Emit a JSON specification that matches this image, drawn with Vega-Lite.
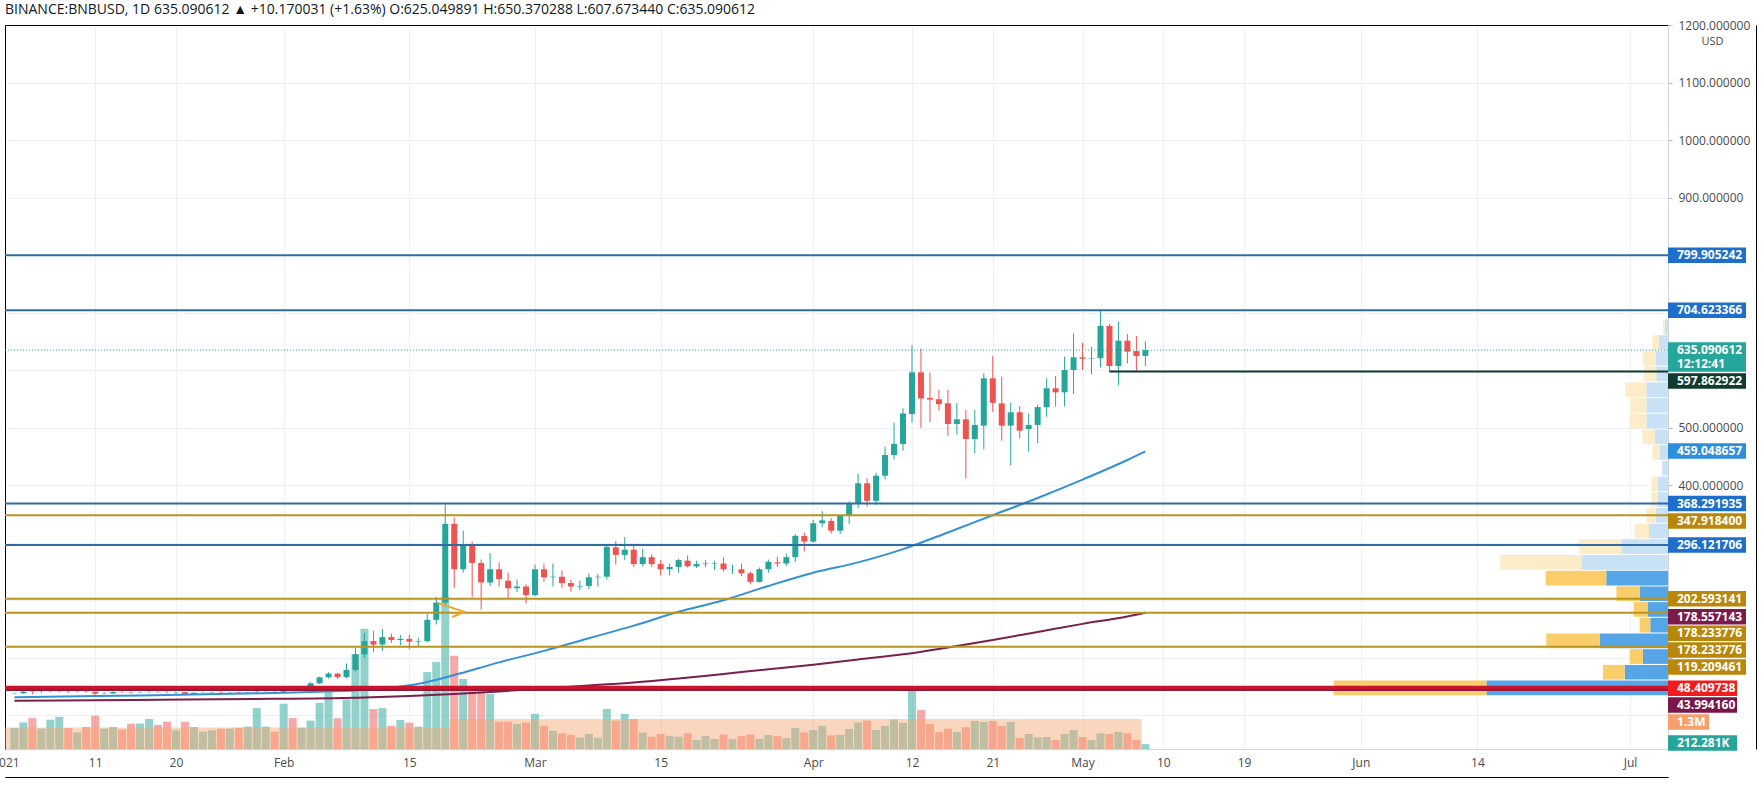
{
  "$schema": "https://vega.github.io/schema/vega-lite/v6.json",
  "width": 1663,
  "height": 724,
  "autosize": "none",
  "padding": {"left": 5, "top": 25, "right": 95, "bottom": 40},
  "background": "white",
  "config": {"font": "Open Sans", "view": {"stroke": null}},
  "title": {
    "text": "BINANCE:BNBUSD, 1D 635.090612 ▲ +10.170031 (+1.63%) O:625.049891 H:650.370288 L:607.673440 C:635.090612",
    "anchor": "start", "frame": "group", "offset": 7, "baseline": "bottom", "dy": 19,
    "fontSize": 14, "fontWeight": "normal", "color": "#131722", "font": "Open Sans"
  },
  "datasets": {
    "candles": [
      {"date":"2021-01-02","o":37.7,"h":38.9,"l":36.7,"c":38.2,"v":0.91},
      {"date":"2021-01-03","o":38.2,"h":42.7,"l":37.9,"c":41.3,"v":1.15},
      {"date":"2021-01-04","o":41.3,"h":42.1,"l":36.2,"c":40.6,"v":1.34},
      {"date":"2021-01-05","o":40.6,"h":42.0,"l":38.8,"c":41.0,"v":0.88},
      {"date":"2021-01-06","o":41.0,"h":42.6,"l":40.2,"c":41.3,"v":1.27},
      {"date":"2021-01-07","o":41.3,"h":43.0,"l":40.6,"c":41.7,"v":1.39},
      {"date":"2021-01-08","o":41.7,"h":42.5,"l":39.0,"c":41.2,"v":0.91},
      {"date":"2021-01-09","o":41.2,"h":42.3,"l":40.2,"c":41.6,"v":0.72},
      {"date":"2021-01-10","o":41.6,"h":42.5,"l":39.2,"c":41.0,"v":0.95},
      {"date":"2021-01-11","o":41.0,"h":41.2,"l":34.0,"c":37.6,"v":1.44},
      {"date":"2021-01-12","o":37.6,"h":40.0,"l":36.5,"c":38.0,"v":0.88},
      {"date":"2021-01-13","o":38.0,"h":41.8,"l":37.3,"c":40.5,"v":0.95},
      {"date":"2021-01-14","o":40.5,"h":42.4,"l":39.6,"c":40.2,"v":0.84},
      {"date":"2021-01-15","o":40.2,"h":41.4,"l":37.6,"c":39.8,"v":1.10},
      {"date":"2021-01-16","o":39.8,"h":41.3,"l":39.2,"c":40.3,"v":1.10},
      {"date":"2021-01-17","o":40.3,"h":41.7,"l":39.4,"c":40.7,"v":1.30},
      {"date":"2021-01-18","o":40.7,"h":41.5,"l":39.3,"c":40.2,"v":1.04},
      {"date":"2021-01-19","o":40.2,"h":41.8,"l":39.0,"c":39.8,"v":1.18},
      {"date":"2021-01-20","o":39.8,"h":41.2,"l":37.4,"c":40.2,"v":0.81},
      {"date":"2021-01-21","o":40.2,"h":40.6,"l":35.2,"c":37.0,"v":1.18},
      {"date":"2021-01-22","o":37.0,"h":39.8,"l":35.5,"c":39.3,"v":0.95},
      {"date":"2021-01-23","o":39.3,"h":40.2,"l":38.6,"c":39.6,"v":0.75},
      {"date":"2021-01-24","o":39.6,"h":41.0,"l":39.0,"c":40.1,"v":0.81},
      {"date":"2021-01-25","o":40.1,"h":41.5,"l":38.9,"c":39.7,"v":0.88},
      {"date":"2021-01-26","o":39.7,"h":40.6,"l":38.3,"c":40.0,"v":0.88},
      {"date":"2021-01-27","o":40.0,"h":40.3,"l":37.6,"c":39.4,"v":0.92},
      {"date":"2021-01-28","o":39.4,"h":40.8,"l":38.8,"c":40.1,"v":0.97},
      {"date":"2021-01-29","o":40.1,"h":42.6,"l":39.3,"c":41.0,"v":1.77},
      {"date":"2021-01-30","o":41.0,"h":41.8,"l":40.1,"c":41.4,"v":0.97},
      {"date":"2021-01-31","o":41.4,"h":41.6,"l":39.7,"c":41.0,"v":0.75},
      {"date":"2021-02-01","o":41.0,"h":48.6,"l":40.6,"c":47.2,"v":1.96},
      {"date":"2021-02-02","o":47.2,"h":49.2,"l":44.8,"c":46.6,"v":1.34},
      {"date":"2021-02-03","o":46.6,"h":49.5,"l":45.6,"c":47.6,"v":0.92},
      {"date":"2021-02-04","o":47.6,"h":57.5,"l":46.5,"c":55.6,"v":1.23},
      {"date":"2021-02-05","o":55.6,"h":67.0,"l":54.5,"c":66.0,"v":2.0},
      {"date":"2021-02-06","o":66.0,"h":75.0,"l":64.0,"c":72.5,"v":2.55},
      {"date":"2021-02-07","o":72.5,"h":74.0,"l":63.0,"c":66.5,"v":1.33},
      {"date":"2021-02-08","o":66.5,"h":90.0,"l":64.0,"c":79.0,"v":2.15},
      {"date":"2021-02-09","o":79.0,"h":118.0,"l":76.0,"c":106.0,"v":4.11},
      {"date":"2021-02-10","o":106.0,"h":143.0,"l":100.0,"c":129.0,"v":5.2},
      {"date":"2021-02-11","o":129.0,"h":147.0,"l":110.0,"c":123.0,"v":1.73},
      {"date":"2021-02-12","o":123.0,"h":150.0,"l":112.0,"c":136.0,"v":1.77},
      {"date":"2021-02-13","o":136.0,"h":142.0,"l":126.0,"c":131.0,"v":1.01},
      {"date":"2021-02-14","o":131.0,"h":140.0,"l":122.0,"c":133.0,"v":1.26},
      {"date":"2021-02-15","o":133.0,"h":140.0,"l":115.0,"c":128.0,"v":1.14},
      {"date":"2021-02-16","o":128.0,"h":135.0,"l":119.0,"c":129.0,"v":0.97},
      {"date":"2021-02-17","o":129.0,"h":176.0,"l":127.0,"c":166.0,"v":3.33},
      {"date":"2021-02-18","o":166.0,"h":206.0,"l":158.0,"c":196.0,"v":3.77},
      {"date":"2021-02-19","o":196.0,"h":368.3,"l":190.0,"c":333.0,"v":6.6},
      {"date":"2021-02-20","o":333.0,"h":344.0,"l":221.0,"c":254.0,"v":4.04},
      {"date":"2021-02-21","o":254.0,"h":321.0,"l":248.0,"c":296.0,"v":3.03},
      {"date":"2021-02-22","o":296.0,"h":302.0,"l":206.0,"c":265.0,"v":2.55},
      {"date":"2021-02-23","o":265.0,"h":271.0,"l":184.0,"c":231.0,"v":2.55},
      {"date":"2021-02-24","o":231.0,"h":282.0,"l":225.0,"c":254.0,"v":2.38},
      {"date":"2021-02-25","o":254.0,"h":266.0,"l":224.0,"c":237.0,"v":1.18},
      {"date":"2021-02-26","o":234.0,"h":248.0,"l":203.0,"c":221.0,"v":1.18},
      {"date":"2021-02-27","o":221.0,"h":236.0,"l":214.0,"c":224.0,"v":1.08},
      {"date":"2021-02-28","o":224.0,"h":228.0,"l":194.0,"c":209.0,"v":1.14},
      {"date":"2021-03-01","o":209.0,"h":262.0,"l":207.0,"c":254.0,"v":1.52},
      {"date":"2021-03-02","o":254.0,"h":264.0,"l":232.0,"c":240.0,"v":1.0},
      {"date":"2021-03-03","o":240.0,"h":264.0,"l":224.0,"c":241.0,"v":0.79},
      {"date":"2021-03-04","o":241.0,"h":252.0,"l":222.0,"c":230.0,"v":0.68},
      {"date":"2021-03-05","o":230.0,"h":236.0,"l":215.0,"c":224.0,"v":0.61},
      {"date":"2021-03-06","o":224.0,"h":234.0,"l":218.0,"c":225.0,"v":0.5},
      {"date":"2021-03-07","o":225.0,"h":247.0,"l":219.0,"c":240.0,"v":0.65},
      {"date":"2021-03-08","o":240.0,"h":246.0,"l":224.0,"c":241.0,"v":0.49},
      {"date":"2021-03-09","o":241.0,"h":296.0,"l":236.0,"c":293.0,"v":1.73},
      {"date":"2021-03-10","o":292.0,"h":303.0,"l":262.0,"c":279.0,"v":1.23},
      {"date":"2021-03-11","o":279.0,"h":310.0,"l":270.0,"c":288.0,"v":1.52},
      {"date":"2021-03-12","o":288.0,"h":295.0,"l":258.0,"c":263.0,"v":1.3},
      {"date":"2021-03-13","o":263.0,"h":290.0,"l":259.0,"c":275.0,"v":0.71},
      {"date":"2021-03-14","o":275.0,"h":280.0,"l":258.0,"c":263.0,"v":0.53},
      {"date":"2021-03-15","o":263.0,"h":270.0,"l":243.0,"c":254.0,"v":0.65},
      {"date":"2021-03-16","o":254.0,"h":264.0,"l":243.0,"c":258.0,"v":0.56},
      {"date":"2021-03-17","o":258.0,"h":272.0,"l":248.0,"c":270.0,"v":0.53},
      {"date":"2021-03-18","o":269.0,"h":278.0,"l":257.0,"c":259.0,"v":0.68},
      {"date":"2021-03-19","o":259.0,"h":269.0,"l":256.0,"c":263.0,"v":0.39},
      {"date":"2021-03-20","o":263.0,"h":270.0,"l":258.0,"c":264.0,"v":0.56},
      {"date":"2021-03-21","o":263.0,"h":268.0,"l":253.0,"c":264.0,"v":0.43},
      {"date":"2021-03-22","o":264.0,"h":275.0,"l":250.0,"c":254.0,"v":0.63},
      {"date":"2021-03-23","o":254.0,"h":262.0,"l":246.0,"c":254.5,"v":0.43},
      {"date":"2021-03-24","o":254.0,"h":264.0,"l":242.0,"c":247.0,"v":0.56},
      {"date":"2021-03-25","o":247.0,"h":250.0,"l":228.0,"c":232.0,"v":0.63},
      {"date":"2021-03-26","o":232.0,"h":257.0,"l":231.0,"c":254.0,"v":0.43},
      {"date":"2021-03-27","o":254.0,"h":271.0,"l":248.0,"c":267.0,"v":0.61},
      {"date":"2021-03-28","o":266.0,"h":276.0,"l":258.0,"c":264.0,"v":0.56},
      {"date":"2021-03-29","o":264.0,"h":281.0,"l":260.0,"c":275.0,"v":0.48},
      {"date":"2021-03-30","o":275.0,"h":315.0,"l":267.0,"c":312.0,"v":0.91},
      {"date":"2021-03-31","o":312.0,"h":318.0,"l":285.0,"c":302.0,"v":0.72},
      {"date":"2021-04-01","o":302.0,"h":340.0,"l":300.0,"c":334.0,"v":0.82},
      {"date":"2021-04-02","o":334.0,"h":355.0,"l":327.0,"c":339.0,"v":1.0},
      {"date":"2021-04-03","o":338.0,"h":343.0,"l":316.0,"c":321.0,"v":0.59},
      {"date":"2021-04-04","o":321.0,"h":349.0,"l":315.0,"c":346.6,"v":0.61},
      {"date":"2021-04-05","o":346.6,"h":372.0,"l":333.0,"c":367.5,"v":0.87},
      {"date":"2021-04-06","o":367.5,"h":420.0,"l":360.0,"c":403.5,"v":1.15},
      {"date":"2021-04-07","o":403.5,"h":412.0,"l":363.0,"c":373.0,"v":1.23},
      {"date":"2021-04-08","o":373.0,"h":422.0,"l":366.0,"c":416.7,"v":0.82},
      {"date":"2021-04-09","o":416.7,"h":467.0,"l":410.0,"c":452.7,"v":1.0},
      {"date":"2021-04-10","o":452.7,"h":509.0,"l":445.0,"c":472.0,"v":1.28},
      {"date":"2021-04-11","o":472.0,"h":534.0,"l":460.0,"c":525.0,"v":1.13},
      {"date":"2021-04-12","o":524.0,"h":644.0,"l":509.0,"c":596.5,"v":2.55},
      {"date":"2021-04-13","o":596.5,"h":638.0,"l":500.0,"c":551.0,"v":1.69},
      {"date":"2021-04-14","o":552.0,"h":596.0,"l":510.0,"c":549.0,"v":1.08},
      {"date":"2021-04-15","o":549.6,"h":566.0,"l":530.0,"c":541.0,"v":0.74},
      {"date":"2021-04-16","o":542.6,"h":566.0,"l":486.0,"c":506.6,"v":0.88},
      {"date":"2021-04-17","o":506.6,"h":543.0,"l":488.0,"c":514.8,"v":0.74},
      {"date":"2021-04-18","o":514.8,"h":531.0,"l":412.0,"c":480.5,"v":0.94},
      {"date":"2021-04-19","o":480.5,"h":531.0,"l":455.6,"c":505.0,"v":1.21},
      {"date":"2021-04-20","o":503.7,"h":594.8,"l":462.6,"c":586.0,"v":1.17},
      {"date":"2021-04-21","o":586.0,"h":624.9,"l":528.0,"c":543.6,"v":1.21},
      {"date":"2021-04-22","o":542.6,"h":589.0,"l":477.6,"c":503.7,"v":1.0},
      {"date":"2021-04-23","o":503.7,"h":543.6,"l":435.0,"c":527.0,"v":1.17},
      {"date":"2021-04-24","o":527.0,"h":538.0,"l":481.7,"c":495.0,"v":0.48},
      {"date":"2021-04-25","o":498.0,"h":525.0,"l":458.5,"c":505.0,"v":0.65},
      {"date":"2021-04-26","o":505.0,"h":540.0,"l":473.0,"c":536.0,"v":0.5},
      {"date":"2021-04-27","o":535.7,"h":586.0,"l":519.0,"c":568.7,"v":0.52},
      {"date":"2021-04-28","o":568.7,"h":590.0,"l":536.7,"c":561.7,"v":0.39},
      {"date":"2021-04-29","o":561.7,"h":623.7,"l":537.0,"c":600.5,"v":0.65},
      {"date":"2021-04-30","o":600.5,"h":664.0,"l":558.8,"c":622.6,"v":0.82},
      {"date":"2021-05-01","o":622.6,"h":648.0,"l":600.5,"c":620.0,"v":0.52},
      {"date":"2021-05-02","o":620.5,"h":641.0,"l":593.6,"c":621.5,"v":0.39},
      {"date":"2021-05-03","o":621.0,"h":704.6,"l":605.0,"c":677.0,"v":0.68},
      {"date":"2021-05-04","o":677.0,"h":680.5,"l":597.6,"c":607.5,"v":0.65},
      {"date":"2021-05-05","o":607.5,"h":684.5,"l":574.0,"c":651.5,"v":0.74},
      {"date":"2021-05-06","o":651.5,"h":663.0,"l":612.0,"c":632.4,"v":0.68},
      {"date":"2021-05-07","o":633.5,"h":659.6,"l":597.6,"c":624.9,"v":0.39},
      {"date":"2021-05-08","o":625.05,"h":650.37,"l":607.67,"c":635.09,"v":0.21}
    ],
    "ma50": [
      {"date":"2021-01-02","p":31.3},{"date":"2021-01-11","p":33.5},{"date":"2021-01-19","p":35.3},
      {"date":"2021-01-26","p":37.3},{"date":"2021-01-31","p":38.8},{"date":"2021-02-05","p":41.0},
      {"date":"2021-02-10","p":44.0},{"date":"2021-02-14","p":50.0},{"date":"2021-02-17","p":58.0},
      {"date":"2021-02-20","p":70.0},{"date":"2021-02-25","p":92.0},{"date":"2021-03-02","p":112.0},
      {"date":"2021-03-07","p":134.0},{"date":"2021-03-12","p":156.0},{"date":"2021-03-17","p":180.0},
      {"date":"2021-03-22","p":200.0},{"date":"2021-03-27","p":225.0},{"date":"2021-04-01","p":248.0},
      {"date":"2021-04-06","p":266.0},{"date":"2021-04-11","p":289.0},{"date":"2021-04-16","p":318.0},
      {"date":"2021-04-21","p":348.0},{"date":"2021-04-26","p":378.0},{"date":"2021-05-01","p":410.0},
      {"date":"2021-05-06","p":444.0},{"date":"2021-05-08","p":459.05}
    ],
    "ma200": [
      {"date":"2021-01-02","p":25.4},{"date":"2021-01-11","p":26.2},{"date":"2021-01-21","p":27.3},
      {"date":"2021-01-31","p":28.6},{"date":"2021-02-10","p":31.0},{"date":"2021-02-15","p":33.5},
      {"date":"2021-02-20","p":37.0},{"date":"2021-02-25","p":41.5},{"date":"2021-03-02","p":47.0},
      {"date":"2021-03-07","p":52.0},{"date":"2021-03-12","p":57.0},{"date":"2021-03-17","p":64.0},
      {"date":"2021-03-22","p":72.0},{"date":"2021-03-27","p":80.0},{"date":"2021-04-01","p":88.0},
      {"date":"2021-04-06","p":97.0},{"date":"2021-04-11","p":106.0},{"date":"2021-04-16","p":118.0},
      {"date":"2021-04-21","p":131.0},{"date":"2021-04-26","p":145.0},{"date":"2021-05-01","p":159.0},
      {"date":"2021-05-06","p":172.0},{"date":"2021-05-08","p":178.56}
    ],
    "levels": [
      {"p":799.905242,"kind":"level"},
      {"p":704.623366,"kind":"level"},
      {"p":368.291935,"kind":"level"},
      {"p":347.9184,"kind":"fib"},
      {"p":296.121706,"kind":"level"},
      {"p":202.593141,"kind":"fib"},
      {"p":178.233776,"kind":"fib"},
      {"p":119.209461,"kind":"fib"},
      {"p":48.409738,"kind":"base"},
      {"p":43.99416,"kind":"low"},
      {"p":635.090612,"kind":"price"},
      {"p":597.862922,"kind":"stop","from":"2021-05-04"}
    ],
    "arrow": [
      {"date":"2021-02-18T02:00:00Z","p":196,"i":1},
      {"date":"2021-02-21T02:00:00Z","p":180,"i":2},
      {"date":"2021-02-19T19:00:00Z","p":171,"i":3}
    ],
    "tags": [
      {"at":799.9,"text":"799.905242","kind":"level"},
      {"at":704.6,"text":"704.623366","kind":"level"},
      {"at":635.3,"text":"635.090612","kind":"price"},
      {"at":611.0,"text":"12:12:41","kind":"price"},
      {"at":581.4,"text":"597.862922","kind":"stop"},
      {"at":459.7,"text":"459.048657","kind":"ma50"},
      {"at":368.3,"text":"368.291935","kind":"level"},
      {"at":338.0,"text":"347.918400","kind":"fib"},
      {"at":296.1,"text":"296.121706","kind":"level"},
      {"at":202.6,"text":"202.593141","kind":"fib"},
      {"at":171.5,"text":"178.557143","kind":"ma200"},
      {"at":142.6,"text":"178.233776","kind":"fib"},
      {"at":113.6,"text":"178.233776","kind":"fib"},
      {"at":84.0,"text":"119.209461","kind":"fib"},
      {"at":47.0,"text":"48.409738","kind":"base"},
      {"at":17.9,"text":"43.994160","kind":"low"},
      {"at":-11.7,"text":"1.3M","kind":"volzone"},
      {"at":-48.2,"text":"212.281K","kind":"vol"}
    ],
    "zones": [
      {"from":"2020-12-31T00:00:00Z","to":"2021-02-19T12:00:00Z","top":0.93},
      {"from":"2021-02-19T12:00:00Z","to":"2021-05-07T14:00:00Z","top":1.3}
    ],
    "profile": [
      {"lo":34.8,"hi":62.1,"up":18.16,"tot":33.43,"va":true},
      {"lo":62.1,"hi":89.4,"up":4.33,"tot":6.5,"va":true},
      {"lo":89.4,"hi":116.7,"up":2.5,"tot":3.83,"va":true},
      {"lo":116.7,"hi":144.0,"up":6.83,"tot":12.17,"va":true},
      {"lo":144.0,"hi":171.3,"up":1.77,"tot":2.84,"va":true},
      {"lo":171.3,"hi":198.6,"up":2.0,"tot":3.43,"va":true},
      {"lo":198.6,"hi":225.9,"up":2.83,"tot":5.16,"va":true},
      {"lo":225.9,"hi":253.2,"up":6.17,"tot":12.24,"va":true},
      {"lo":253.2,"hi":280.5,"up":8.67,"tot":16.77,"va":false},
      {"lo":280.5,"hi":307.8,"up":4.67,"tot":8.9,"va":false},
      {"lo":307.8,"hi":335.1,"up":1.9,"tot":3.33,"va":false},
      {"lo":335.1,"hi":362.4,"up":1.23,"tot":2.16,"va":false},
      {"lo":362.4,"hi":389.7,"up":1.0,"tot":1.67,"va":false},
      {"lo":389.7,"hi":417.0,"up":1.0,"tot":1.67,"va":false},
      {"lo":417.0,"hi":444.3,"up":0.57,"tot":0.57,"va":false},
      {"lo":444.3,"hi":471.6,"up":0.83,"tot":1.56,"va":false},
      {"lo":471.6,"hi":498.9,"up":1.33,"tot":2.56,"va":false},
      {"lo":498.9,"hi":526.2,"up":2.17,"tot":3.84,"va":false},
      {"lo":526.2,"hi":553.5,"up":2.17,"tot":3.77,"va":false},
      {"lo":553.5,"hi":580.8,"up":2.17,"tot":4.27,"va":false},
      {"lo":580.8,"hi":608.1,"up":1.17,"tot":2.44,"va":false},
      {"lo":608.1,"hi":635.4,"up":1.23,"tot":2.5,"va":false},
      {"lo":635.4,"hi":662.7,"up":0.9,"tot":1.57,"va":false},
      {"lo":662.7,"hi":690.0,"up":0.33,"tot":0.5,"va":false}
    ]
  },
  "layer": [
    {
      "layer": [
        {
          "data": {"name": "candles"},
          "mark": {"type": "bar", "size": 8, "opacity": 0.5},
          "encoding": {
            "x": {"field": "date", "type": "temporal",
                  "scale": {"type": "utc", "domain": [{"year":2021,"month":1,"date":1,"hours":12,"minutes":13,"utc":true}, {"year":2021,"month":7,"date":4,"hours":16,"minutes":5,"utc":true}]},
                  "axis": {"orient": "top", "labels": false, "ticks": false, "grid": false, "domainColor": "#000000", "title": null}},
            "y": {"field": "v", "type": "quantitative", "scale": {"domain": [0, 31.34], "nice": false, "zero": false},
                  "axis": {"orient": "left", "labels": false, "ticks": false, "grid": false, "domainColor": "#000000", "title": null}},
            "color": {"condition": {"test": "datum.c >= datum.o", "value": "#26a69a"}, "value": "#ef5350"}
          }
        },
        {
          "data": {"name": "zones"},
          "mark": {"type": "rect", "color": "#f7a46f", "opacity": 0.45, "clip": true},
          "encoding": {
            "x": {"field": "from", "type": "temporal"},
            "x2": {"field": "to"},
            "y": {"field": "top", "type": "quantitative"},
            "y2": {"datum": 0}
          }
        }
      ]
    },
    {
      "data": {"name": "profile"},
      "encoding": {
        "y": {"field": "lo", "type": "quantitative", "scale": {"domain": [-58.6, 1200.5], "nice": false, "zero": false},
              "axis": {"orient": "right", "offset": 88, "labels": false, "ticks": false, "grid": false, "domainColor": "#000000", "title": null}},
        "y2": {"field": "hi"}
      },
      "layer": [
        {
          "mark": {"type": "rect", "y2Offset": 1},
          "encoding": {
            "x": {"field": "up", "type": "quantitative", "scale": {"domain": [0, 166.3], "reverse": true, "nice": false, "zero": false},
                  "axis": {"orient": "bottom", "offset": 28, "labels": false, "ticks": false, "grid": false, "domainColor": "#000000", "title": null}},
            "x2": {"datum": 0},
            "color": {"condition": {"test": "datum.va", "value": "#56a5e6"}, "value": "#c8e1f5"}
          }
        },
        {
          "mark": {"type": "rect", "y2Offset": 1},
          "encoding": {
            "x": {"field": "tot", "type": "quantitative"},
            "x2": {"field": "up"},
            "color": {"condition": {"test": "datum.va", "value": "#f9cd69"}, "value": "#fdecc8"}
          }
        }
      ]
    },
    {
      "layer": [
        {
          "data": {"name": "candles"},
          "mark": {"type": "rule", "strokeWidth": 1},
          "encoding": {
            "x": {"field": "date", "type": "temporal",
                  "scale": {"type": "utc", "domain": [{"year":2021,"month":1,"date":1,"hours":12,"minutes":13,"utc":true}, {"year":2021,"month":7,"date":4,"hours":16,"minutes":5,"utc":true}]},
                  "axis": {
                    "orient": "bottom", "title": null, "ticks": false, "grid": true, "gridColor": "#eef0f5",
                    "domainColor": "#d1d4dc", "labelPadding": 8, "labelFontSize": 12, "labelColor": "#4a4a4a",
                    "labelFlush": false, "labelOverlap": false, "labelBound": false,
                    "values": [
                      {"year":2021,"month":1,"date":1,"utc":true},{"year":2021,"month":1,"date":11,"utc":true},
                      {"year":2021,"month":1,"date":20,"utc":true},{"year":2021,"month":2,"date":1,"utc":true},
                      {"year":2021,"month":2,"date":15,"utc":true},{"year":2021,"month":3,"date":1,"utc":true},
                      {"year":2021,"month":3,"date":15,"utc":true},{"year":2021,"month":4,"date":1,"utc":true},
                      {"year":2021,"month":4,"date":12,"utc":true},{"year":2021,"month":4,"date":21,"utc":true},
                      {"year":2021,"month":5,"date":1,"utc":true},{"year":2021,"month":5,"date":10,"utc":true},
                      {"year":2021,"month":5,"date":19,"utc":true},{"year":2021,"month":6,"date":1,"utc":true},
                      {"year":2021,"month":6,"date":14,"utc":true},{"year":2021,"month":7,"date":1,"utc":true}
                    ],
                    "labelExpr": "utcdate(datum.value) == 1 ? (utcmonth(datum.value) == 0 ? '2021' : utcFormat(datum.value, '%b')) : utcFormat(datum.value, '%-d')"
                  }},
            "y": {"field": "l", "type": "quantitative", "scale": {"domain": [-58.6, 1200.5], "nice": false, "zero": false},
                  "axis": {
                    "orient": "right", "grid": true, "gridColor": "#eef0f5", "domainColor": "#d1d4dc",
                    "tickColor": "#b2b5be", "tickSize": 4, "labelPadding": 6, "labelFontSize": 12, "labelColor": "#4a4a4a",
                    "labelFlush": false, "labelOverlap": false,
                    "values": [0,100,200,300,400,500,600,700,800,900,1000,1100,1200],
                    "labelExpr": "indexof([1200,1100,1000,900,500,400], datum.value) >= 0 ? format(datum.value, '.6f') : ''",
                    "title": "USD", "titleAngle": 0, "titleX": 44, "titleY": 16, "titleAlign": "center",
                    "titleBaseline": "middle", "titleFontSize": 11, "titleFontWeight": "normal", "titleColor": "#4a4a4a"
                  }},
            "y2": {"field": "h"},
            "color": {"condition": {"test": "datum.c >= datum.o", "value": "#26a69a"}, "value": "#ef5350"}
          }
        },
        {
          "data": {"name": "candles"},
          "mark": {"type": "bar", "size": 6},
          "encoding": {
            "x": {"field": "date", "type": "temporal"},
            "y": {"field": "o", "type": "quantitative"},
            "y2": {"field": "c"},
            "color": {"condition": {"test": "datum.c >= datum.o", "value": "#26a69a"}, "value": "#ef5350"}
          }
        },
        {
          "data": {"name": "ma50"},
          "mark": {"type": "line", "color": "#3391d6", "strokeWidth": 2, "interpolate": "monotone"},
          "encoding": {"x": {"field": "date", "type": "temporal"}, "y": {"field": "p", "type": "quantitative"}}
        },
        {
          "data": {"name": "ma200"},
          "mark": {"type": "line", "color": "#7b1f4b", "strokeWidth": 2, "interpolate": "monotone"},
          "encoding": {"x": {"field": "date", "type": "temporal"}, "y": {"field": "p", "type": "quantitative"}}
        },
        {
          "data": {"name": "levels"},
          "transform": [{"filter": "datum.kind == 'level' || datum.kind == 'fib' || datum.kind == 'low'"}],
          "mark": {"type": "rule", "strokeWidth": 2},
          "encoding": {
            "y": {"field": "p", "type": "quantitative"},
            "color": {"field": "kind", "type": "nominal", "legend": null,
                      "scale": {"domain": ["level","fib","base","low","price","stop"], "range": ["#2e6ca4","#b8951f","#c8142c","#8a1d3d","#26a69a","#0c3b2e"]}}
          }
        },
        {
          "data": {"name": "levels"},
          "transform": [{"filter": "datum.kind == 'base'"}],
          "mark": {"type": "rule", "strokeWidth": 3.5},
          "encoding": {"y": {"field": "p", "type": "quantitative"}, "color": {"field": "kind", "type": "nominal", "legend": null}}
        },
        {
          "data": {"name": "levels"},
          "transform": [{"filter": "datum.kind == 'price'"}],
          "mark": {"type": "rule", "strokeWidth": 1, "strokeDash": [1, 2]},
          "encoding": {"y": {"field": "p", "type": "quantitative"}, "color": {"field": "kind", "type": "nominal", "legend": null}}
        },
        {
          "data": {"name": "levels"},
          "transform": [{"filter": "datum.kind == 'stop'"}],
          "mark": {"type": "rule", "strokeWidth": 2},
          "encoding": {
            "x": {"field": "from", "type": "temporal"},
            "x2": {"value": "width"},
            "y": {"field": "p", "type": "quantitative"},
            "color": {"field": "kind", "type": "nominal", "legend": null}
          }
        },
        {
          "data": {"name": "arrow"},
          "mark": {"type": "line", "color": "#f0a329", "strokeWidth": 2},
          "encoding": {
            "x": {"field": "date", "type": "temporal"},
            "y": {"field": "p", "type": "quantitative"},
            "order": {"field": "i"}
          }
        },
        {
          "data": {"name": "tags"},
          "transform": [{"filter": "datum.kind != 'base' && datum.kind != 'low' && datum.kind != 'vol' && datum.kind != 'volzone'"}],
          "mark": {"type": "rule", "strokeWidth": 15.5, "x2Offset": 78},
          "encoding": {
            "x": {"value": "width"},
            "x2": {"value": "width"},
            "y": {"field": "at", "type": "quantitative"},
            "stroke": {"field": "kind", "type": "nominal", "legend": null,
                       "scale": {"domain": ["level","price","stop","ma50","fib","ma200","base","low","volzone","vol"],
                                 "range": ["#1e6fcc","#26a69a","#0e3b2e","#2b8fdb","#b8870b","#7b1a4b","#f21c1c","#7a1649","#f5a06c","#26a69a"]}}
          }
        },
        {
          "data": {"name": "tags"},
          "transform": [{"filter": "datum.kind == 'base' || datum.kind == 'low' || datum.kind == 'vol'"}],
          "mark": {"type": "rule", "strokeWidth": 15.5, "x2Offset": 69},
          "encoding": {
            "x": {"value": "width"},
            "x2": {"value": "width"},
            "y": {"field": "at", "type": "quantitative"},
            "stroke": {"field": "kind", "type": "nominal", "legend": null}
          }
        },
        {
          "data": {"name": "tags"},
          "transform": [{"filter": "datum.kind == 'volzone'"}],
          "mark": {"type": "rule", "strokeWidth": 15.5, "x2Offset": 41},
          "encoding": {
            "x": {"value": "width"},
            "x2": {"value": "width"},
            "y": {"field": "at", "type": "quantitative"},
            "stroke": {"field": "kind", "type": "nominal", "legend": null}
          }
        },
        {
          "data": {"name": "tags"},
          "mark": {"type": "text", "align": "left", "baseline": "middle", "dx": 9, "fontSize": 12, "fontWeight": "bold", "color": "#ffffff"},
          "encoding": {
            "x": {"value": "width"},
            "y": {"field": "at", "type": "quantitative"},
            "text": {"field": "text", "type": "nominal"}
          }
        }
      ]
    }
  ],
  "resolve": {"scale": {"x": "independent", "y": "independent"}}
}
